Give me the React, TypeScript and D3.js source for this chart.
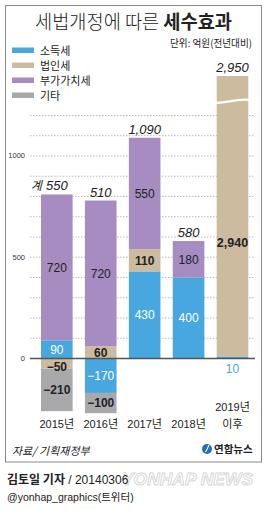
import React from "react";
import * as d3 from "d3";

const years = ["2015년", "2016년", "2017년", "2018년", "2019년|이후"];
const incomeTax = [90, -170, 430, 400, 10];
const corpTax = [-50, 60, 110, 0, 2940];
const vat = [720, 720, 550, 180, 0];
const other = [-210, -100, 0, 0, 0];
const totals = [550, 510, 1090, 580, 2950];
const yTicks = [0, 500, 1000];
const gridValues = [100, 200, 300, 400, 500, 600, 700, 800, 900, 1000, 1100, 1200];

const seriesInfo = [
  { key: "income", name: "소득세", color: "#47a7de", text: "#fff", weight: 400 },
  { key: "corp", name: "법인세", color: "#cdbb9f", text: "#222", weight: 700 },
  { key: "vat", name: "부가가치세", color: "#a78cc2", text: "#222", weight: 400 },
  { key: "other", name: "기타", color: "#a9a9ab", text: "#222", weight: 700 },
];

const W = 267;
const H = 509;
const FONT = "'Liberation Sans', 'Noto Sans CJK KR', sans-serif";
const KFONT = "'Noto Sans CJK KR', sans-serif";
const breakAt = 1270; // axis is broken above this value

export default function App() {
  const rows = years.map((year, i) => ({
    year,
    income: incomeTax[i],
    corp: corpTax[i],
    vat: vat[i],
    other: other[i],
  }));

  const stack = d3
    .stack<any>()
    .keys(seriesInfo.map((s) => s.key))
    .offset(d3.stackOffsetDiverging);
  const layers = stack(rows);
  // top of the positive part of each bar
  const stackTop = years.map((_, i) => d3.max(layers, (l) => l[i][1]) ?? 0);

  const x = d3.scaleBand().domain(years).range([34.85, 254.45]).paddingInner(0.28).paddingOuter(0.14);
  // piecewise: linear up to the break, squeezed above it
  const y = d3.scaleLinear().domain([0, breakAt, 2950]).range([358.5, 101.3, 76]);
  const fmt = d3.format(",");

  const wave = (x0: number, x1: number, yy: number) => {
    const w = x1 - x0;
    return `M${x0 - 1},${yy + 1.5} C${x0 + w * 0.35},${yy + 2} ${x0 + w * 0.5},${yy - 2.5} ${x1 + 1},${yy - 1.5}`;
  };

  return (
    <svg width={W} height={H} style={{ position: "absolute", left: 0, top: 0, background: "#fff" }}>
      <rect x={0} y={0} width={W} height={H} fill="#fff" />
      <rect x={5.5} y={5.5} width={256} height={456.5} fill="none" stroke="#8a8a8a" strokeWidth={1} />

      <text x={35} y={29} fontFamily={KFONT} fontSize={19} fill="#222" textLength={197} lengthAdjust="spacingAndGlyphs">
        <tspan fontWeight={300}>세법개정에 따른 </tspan>
        <tspan fontWeight={700}>세수효과</tspan>
      </text>

      {seriesInfo.map((s, i) => (
        <g key={s.key} transform={`translate(12,${47.5 + i * 15})`}>
          <rect width={22} height={5.5} fill={s.color} />
          <text x={28} y={7} fontFamily={KFONT} fontSize={11} fill="#222">
            {s.name}
          </text>
        </g>
      ))}

      <text x={252} y={47} textAnchor="end" fontFamily={KFONT} fontSize={10} fill="#222" textLength={82} lengthAdjust="spacingAndGlyphs">
        단위: 억원(전년대비)
      </text>

      {gridValues.map((v) => (
        <line key={v} x1={30} x2={255} y1={y(v)} y2={y(v)} stroke="#aaa" strokeWidth={0.8} strokeDasharray="1.5,1.5" />
      ))}

      {yTicks.map((v) => (
        <text key={v} x={25} y={y(v) + 2.5} textAnchor="end" fontFamily={FONT} fontSize={7.5} fill="#333">
          {v}
        </text>
      ))}

      {layers.map((layer, li) =>
        layer.map((d, i) => {
          const h = y(d[0]) - y(d[1]);
          if (Math.abs(h) < 0.01) return null;
          return (
            <rect
              key={`${li}-${i}`}
              x={x(years[i])}
              width={x.bandwidth()}
              y={y(d[1])}
              height={h}
              fill={seriesInfo[li].color}
            />
          );
        })
      )}

      {/* break mark on the tall bar */}
      {stackTop.map((t, i) =>
        t > breakAt ? (
          <path
            key={`w${i}`}
            d={wave(x(years[i])!, x(years[i])! + x.bandwidth(), y(breakAt))}
            fill="none"
            stroke="#fff"
            strokeWidth={2.2}
          />
        ) : null
      )}

      <line x1={30} x2={255} y1={y(0)} y2={y(0)} stroke="#555" strokeWidth={1.5} />

      {layers.map((layer, li) =>
        layer.map((d, i) => {
          const v = rows[i][seriesInfo[li].key as "income"];
          if (!v) return null;
          const cx = x(years[i])! + x.bandwidth() / 2;
          const h = Math.abs(y(d[0]) - y(d[1]));
          let cy = (y(d[0]) + y(d[1])) / 2;
          let fill = seriesInfo[li].text;
          let weight = seriesInfo[li].weight;
          let size = 12;
          if (h < 6) {
            // too thin: label goes under the axis
            cy = y(0) + 10;
            fill = seriesInfo[li].color;
            weight = 400;
          } else if (h < 12 && d[1] <= 0) {
            cy += 3;
          } else if (d[1] > breakAt) {
            cy = y(570);
            weight = 700;
            size = 12.5;
          }
          return (
            <text
              key={`l${li}-${i}`}
              x={cx}
              y={cy + 4.3}
              textAnchor="middle"
              fontFamily={FONT}
              fontSize={size}
              fontWeight={weight}
              fill={fill}
            >
              {fmt(v)}
            </text>
          );
        })
      )}

      {totals.map((t, i) => {
        const cx = x(years[i])! + x.bandwidth() / 2;
        const top = y(stackTop[i]);
        return (
          <g key={`t${i}`}>
            <text x={cx} y={top - 4} textAnchor="middle" fontFamily={FONT} fontSize={13} fontStyle="italic" fill="#222">
              {fmt(t)}
            </text>
            {i === 0 ? (
              <text x={cx - 15} y={top - 4} textAnchor="end" fontFamily={KFONT} fontSize={12} fontStyle="italic" fill="#222">
                계
              </text>
            ) : null}
          </g>
        );
      })}

      {years.map((yr) => {
        const parts = yr.split("|");
        const cx = x(yr)! + x.bandwidth() / 2;
        return parts.length > 1 ? (
          <text key={yr} textAnchor="middle" fontFamily={FONT} fontSize={11} fill="#222">
            <tspan x={cx} y={411}>{parts[0]}</tspan>
            <tspan x={cx} y={428}>{parts[1]}</tspan>
          </text>
        ) : (
          <text key={yr} x={cx} y={428} textAnchor="middle" fontFamily={FONT} fontSize={11} fill="#222">
            {yr}
          </text>
        );
      })}

      <text x={12} y={455} fontFamily={KFONT} fontSize={11} fontStyle="italic" fill="#222">
        자료/ 기획재정부
      </text>

      <circle cx={207} cy={449} r={5} fill="#1f6fc0" />
      <path d="M205.5,452 C207,450 208,447 209,445" stroke="#fff" strokeWidth={1.2} fill="none" />
      <text x={214} y={453} fontFamily={KFONT} fontSize={10.5} fontWeight={700} fill="#222">
        연합뉴스
      </text>

      <text x={122} y={485} fontFamily={FONT} fontSize={17} fontWeight={700} fontStyle="italic" fill="#fff" stroke="#d6d6d6" strokeWidth={0.9} textLength={131} lengthAdjust="spacingAndGlyphs">
        YONHAP NEWS
      </text>

      <text x={7} y={484} fontFamily={KFONT} fontSize={12} fill="#222">
        <tspan fontWeight={700}>김토일 기자</tspan>
        <tspan fontFamily={FONT}> / 20140306</tspan>
      </text>
      <text x={7} y={501} fontFamily={FONT} fontSize={10.5} fill="#222">
        @yonhap_graphics(<tspan fontFamily={KFONT}>트위터</tspan>)
      </text>
    </svg>
  );
}
